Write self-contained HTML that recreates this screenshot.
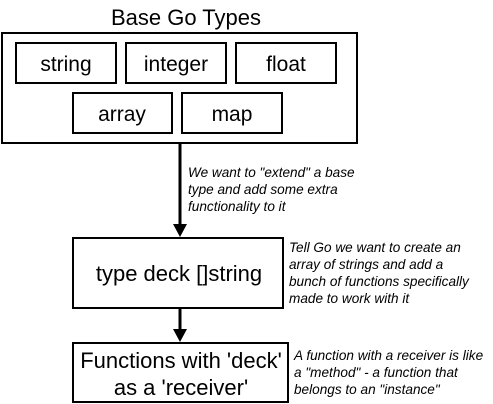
<!DOCTYPE html>
<html><head><style>
html,body{margin:0;padding:0;background:#fff;width:493px;height:404px;overflow:hidden}
svg{display:block}
text{font-family:"Liberation Sans",sans-serif;fill:#000}
.b{font-size:21px}
.c{font-size:22px}
.i{font-size:13.6px;font-style:italic}
</style></head><body>
<svg width="493" height="404" viewBox="0 0 493 404">
<text class="c" x="186" y="25" text-anchor="middle">Base Go Types</text>
<g fill="none" stroke="#000" stroke-width="2">
<rect x="2" y="33" width="355" height="110"/>
<rect x="16" y="43" width="100" height="40"/>
<rect x="126" y="43" width="100" height="40"/>
<rect x="236" y="43" width="100" height="40"/>
<rect x="73" y="93" width="99" height="40"/>
<rect x="182" y="93" width="100" height="40"/>
<rect x="73" y="238" width="210" height="70"/>
<rect x="73" y="343" width="215" height="59"/>
<line x1="180" y1="143" x2="180" y2="226" stroke-width="3"/>
<line x1="180" y1="308" x2="180" y2="331" stroke-width="3"/>
</g>
<polygon points="173,224 187,224 180,237" fill="#000"/>
<polygon points="173,329 187,329 180,342" fill="#000"/>
<g class="b" text-anchor="middle">
<text x="66" y="71">string</text>
<text x="176" y="71">integer</text>
<text x="286" y="71">float</text>
<text x="122" y="121">array</text>
<text x="232" y="121">map</text>
</g>
<g class="c" text-anchor="middle">
<text x="179" y="281">type deck []string</text>
<text x="181" y="368">Functions with 'deck'</text>
<text x="181" y="395">as a 'receiver'</text>
</g>
<g class="i">
<text x="188" y="177">We want to "extend" a base</text>
<text x="188" y="194">type and add some extra</text>
<text x="188" y="211">functionality to it</text>
<text x="289" y="252">Tell Go we want to create an</text>
<text x="289" y="269">array of strings and add a</text>
<text x="289" y="286">bunch of functions specifically</text>
<text x="289" y="303">made to work with it</text>
<text x="294" y="360">A function with a receiver is like</text>
<text x="294" y="377">a "method" - a function that</text>
<text x="294" y="394">belongs to an "instance"</text>
</g>
</svg>
</body></html>
